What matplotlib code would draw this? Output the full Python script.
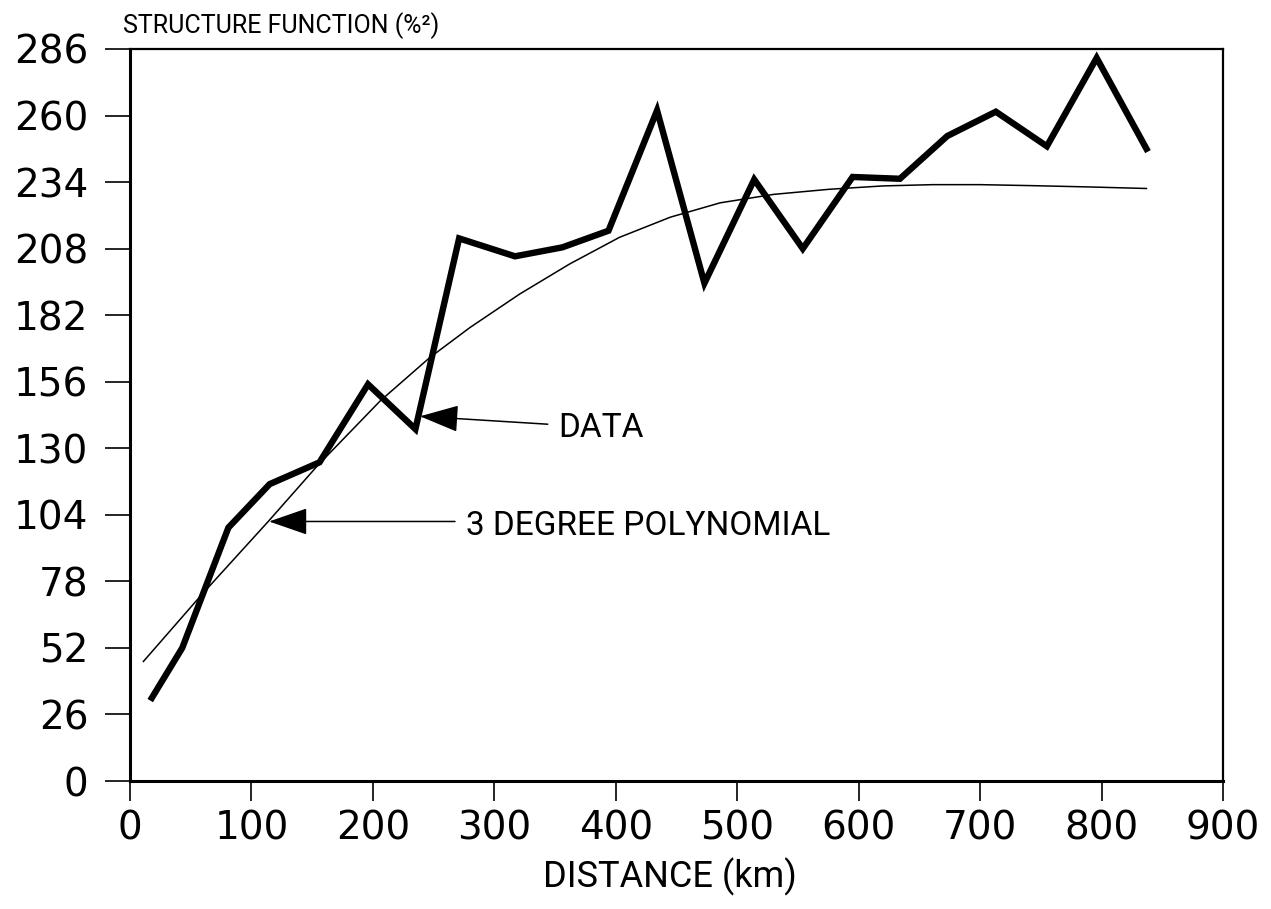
import matplotlib
matplotlib.use('Agg')
import matplotlib.pyplot as plt

# structure function data (km, %^2)
dist = [18, 43, 81, 115, 156, 196, 235, 271, 317, 356, 394, 434, 473,
        514, 554, 595, 634, 673, 713, 755, 796, 837]
sf = [32.5, 52, 99, 116, 124.5, 155, 137.5, 212, 205, 208.5, 215, 262,
      194.5, 235, 208, 236, 235.3, 252, 261.5, 248, 282.5, 247]

# 3 degree polynomial
poly_x = [11, 59, 114, 154, 206, 247, 280, 321, 362, 403, 445, 486, 530,
          576, 620, 661, 700, 744, 790, 837]
poly_y = [46.7, 72.8, 101.5, 123, 148.5, 165.5, 177.2, 190.3, 202, 212.4,
          220.3, 225.9, 229.2, 231.2, 232.5, 233, 233, 232.6, 232.1, 231.5]

yticks = [0, 26, 52, 78, 104, 130, 156, 182, 208, 234, 260, 286]
xticks = [0, 100, 200, 300, 400, 500, 600, 700, 800, 900]

lab_font = ['Roboto', 'DejaVu Sans']

fig = plt.figure(figsize=(12.71, 9.09), dpi=100)
ax = fig.add_axes([0.1023, 0.1408, 0.8599, 0.8053])

ax.plot(poly_x, poly_y, color='black', lw=1.1)
ax.plot(dist, sf, color='black', lw=4.6, solid_joinstyle='miter')

ax.set_xlim(0, 900)
ax.set_ylim(0, 286)
ax.set_xticks(xticks)
ax.set_yticks(yticks)
ax.tick_params(direction='out', width=1.2, labelsize=28, color='black')
ax.tick_params(axis='y', length=18, pad=12)
ax.tick_params(axis='x', length=14.5, pad=6)
for lab in ax.get_xticklabels() + ax.get_yticklabels():
    lab.set_family('DejaVu Sans')

for s in ['left', 'bottom']:
    ax.spines[s].set_linewidth(2.2)
for s in ['top', 'right']:
    ax.spines[s].set_linewidth(1.6)

arr = dict(arrowstyle='-|>,head_length=2.45,head_width=0.85', mutation_scale=10,
           color='black', lw=1.1, shrinkA=0, shrinkB=0)
ax.annotate('', xy=(238.8, 142.5), xytext=(344, 139.4), arrowprops=arr)
ax.text(352.4, 134.3, 'DATA', fontsize=24, family=lab_font, va='baseline', ha='left')
ax.annotate('', xy=(114.5, 101.4), xytext=(267.6, 101.4), arrowprops=arr)
ax.text(276.7, 96.3, '3 DEGREE POLYNOMIAL', fontsize=24, family=lab_font,
        va='baseline', ha='left')

fig.text(123 / 1271, 1 - 33 / 909, 'STRUCTURE FUNCTION (%²)', fontsize=18,
         family=lab_font, va='baseline', ha='left')
fig.text(670 / 1271, 1 - 887 / 909, 'DISTANCE (km)', fontsize=26,
         family=lab_font, va='baseline', ha='center')

fig.savefig('out.png', dpi=100)
